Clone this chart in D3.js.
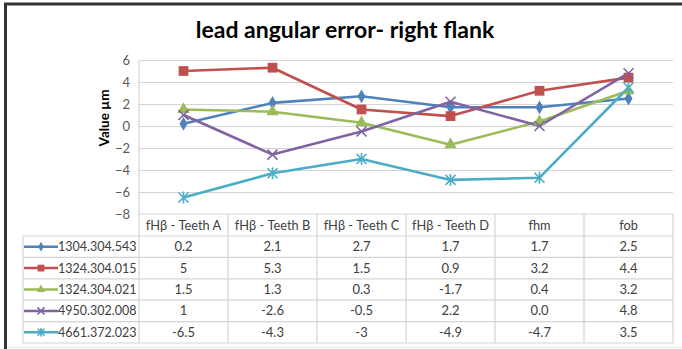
<!DOCTYPE html>
<html>
<head>
<meta charset="utf-8">
<script src="https://cdn.jsdelivr.net/npm/d3@7"></script>
<style>
  body { margin: 0; background: #fff; }
  svg { display: block; font-family: Lato, "Open Sans", sans-serif; }
</style>
</head>
<body>
<svg id="chart" width="682" height="349"></svg>
<script>
// Categories along the x axis (also the table header)
const categories = ["fHβ - Teeth A", "fHβ - Teeth B", "fHβ - Teeth C", "fHβ - Teeth D", "fhm", "fob"];

// Series names (table row labels)
const seriesNames = ["1304.304.543", "1324.304.015", "1324.304.021", "4950.302.008", "4661.372.023"];

// Values per series, kept as written in the data table
const values1304_304_543 = ["0.2", "2.1", "2.7", "1.7", "1.7", "2.5"];
const values1324_304_015 = ["5", "5.3", "1.5", "0.9", "3.2", "4.4"];
const values1324_304_021 = ["1.5", "1.3", "0.3", "-1.7", "0.4", "3.2"];
const values4950_302_008 = ["1", "-2.6", "-0.5", "2.2", "0.0", "4.8"];
const values4661_372_023 = ["-6.5", "-4.3", "-3", "-4.9", "-4.7", "3.5"];

// Y axis tick values
const yTicks = [6, 4, 2, 0, -2, -4, -6, -8];

const seriesColors = ["#4F81BD", "#C0504D", "#9BBB59", "#8064A2", "#4BACC6"];
const seriesMarkers = ["diamond", "square", "triangle", "cross", "star"];

const seriesValues = [values1304_304_543, values1324_304_015, values1324_304_021, values4950_302_008, values4661_372_023];
const series = seriesNames.map((name, i) => ({
  name,
  labels: seriesValues[i],
  values: seriesValues[i].map(Number),
  color: seriesColors[i],
  marker: seriesMarkers[i]
}));

const svg = d3.select("#chart");

// Layout
const plotLeft = 139, plotRight = 673, plotTop = 60, plotBottom = 214;
const tableLeft = 23, headerBottom = 236, tableBottom = 343;
const rowH = (tableBottom - headerBottom) / series.length;
const gridColor = "#d4d4d4";
const textColor = "#404040";

const x = d3.scaleBand().domain(categories).range([plotLeft, plotRight]);
const y = d3.scaleLinear().domain([-8, 6]).range([plotBottom, plotTop]);

// Outer frame
svg.append("path")
  .attr("d", `M5.5,349 V4 H682`)
  .attr("fill", "none")
  .attr("stroke", "#333")
  .attr("stroke-width", 3);
svg.append("line")
  .attr("x1", 7).attr("x2", 682).attr("y1", 347.5).attr("y2", 347.5)
  .attr("stroke", "#e4e4e4");

// Title
svg.append("text")
  .attr("x", 345).attr("y", 38)
  .attr("text-anchor", "middle")
  .attr("font-weight", "bold")
  .attr("font-size", 23)
  .attr("fill", "#000")
  .text("lead angular error- right flank");

// Gridlines
svg.append("g")
  .attr("transform", `translate(${plotLeft},0)`)
  .call(d3.axisLeft(y).tickValues(yTicks.filter(v => v > -8)).tickSize(-(plotRight - plotLeft)).tickFormat(""))
  .call(g => g.select(".domain").remove())
  .call(g => g.selectAll(".tick line").attr("stroke", gridColor).attr("stroke-width", 1.2));

// Y axis labels
svg.append("g")
  .attr("transform", `translate(${plotLeft - 9},0)`)
  .call(d3.axisLeft(y).tickValues(yTicks).tickSize(0).tickPadding(0))
  .call(g => g.select(".domain").remove())
  .call(g => g.selectAll(".tick text")
    .attr("font-family", "Lato, 'Open Sans', sans-serif")
    .attr("font-size", 13)
    .attr("fill", "#595959"));

// Y axis title
svg.append("text")
  .attr("transform", `translate(109,118) rotate(-90)`)
  .attr("text-anchor", "middle")
  .attr("font-weight", "bold")
  .attr("font-size", 13.5)
  .attr("fill", "#000")
  .text("Value µm");

// Data table grid
const tbl = svg.append("g").attr("stroke", gridColor).attr("stroke-width", 1.2).attr("fill", "none");
// horizontal rules
tbl.append("line").attr("x1", plotLeft).attr("x2", plotRight).attr("y1", plotBottom).attr("y2", plotBottom);
for (let r = 0; r <= series.length; r++) {
  const yy = headerBottom + r * rowH;
  tbl.append("line").attr("x1", tableLeft).attr("x2", plotRight).attr("y1", yy).attr("y2", yy);
}
// vertical rules
tbl.append("line").attr("x1", tableLeft).attr("x2", tableLeft).attr("y1", headerBottom).attr("y2", tableBottom);
tbl.append("line").attr("x1", plotLeft).attr("x2", plotLeft).attr("y1", plotTop).attr("y2", tableBottom);
categories.forEach(c => {
  const xx = x(c) + x.bandwidth();
  tbl.append("line").attr("x1", xx).attr("x2", xx).attr("y1", plotBottom).attr("y2", tableBottom);
});

// Header labels
svg.append("g").selectAll("text").data(categories).join("text")
  .attr("x", d => x(d) + x.bandwidth() / 2)
  .attr("y", (plotBottom + headerBottom) / 2 + 4.5)
  .attr("text-anchor", "middle")
  .attr("font-size", 12.8)
  .attr("fill", textColor)
  .text(d => d);

// Marker drawing
function drawMarker(g, type, color, s) {
  if (type === "diamond") {
    g.append("path").attr("d", d3.symbol(d3.symbolDiamond, 55 * s * s)()).attr("fill", color);
  } else if (type === "square") {
    g.append("path").attr("d", d3.symbol(d3.symbolSquare, 95 * s * s)()).attr("fill", color);
  } else if (type === "triangle") {
    g.append("path").attr("d", d3.symbol(d3.symbolTriangle, 66 * s * s)()).attr("fill", color);
  } else if (type === "cross") {
    const r = 5 * s;
    g.append("path").attr("d", `M${-r},${-r}L${r},${r}M${-r},${r}L${r},${-r}`)
      .attr("stroke", color).attr("stroke-width", 1.6).attr("fill", "none");
  } else if (type === "star") {
    const r = 5 * s;
    g.append("path").attr("d", `M${-r},${-r}L${r},${r}M${-r},${r}L${r},${-r}M0,${-r * 1.2}L0,${r * 1.2}`)
      .attr("stroke", color).attr("stroke-width", 1.6).attr("fill", "none");
  }
}

// Lines and markers
const line = d3.line()
  .x((d, i) => x(categories[i]) + x.bandwidth() / 2)
  .y(d => y(d));

const plot = svg.append("g");
series.forEach(s => {
  plot.append("path")
    .attr("d", line(s.values))
    .attr("fill", "none")
    .attr("stroke", s.color)
    .attr("stroke-width", 2.6)
    .attr("stroke-linejoin", "round");
});
series.forEach(s => {
  s.values.forEach((v, i) => {
    const g = plot.append("g")
      .attr("transform", `translate(${x(categories[i]) + x.bandwidth() / 2},${y(v)})`);
    drawMarker(g, s.marker, s.color, 1);
  });
});

// Table rows: legend key, series name, values
series.forEach((s, r) => {
  const cy = headerBottom + r * rowH + rowH / 2;
  const row = svg.append("g");
  row.append("line").attr("x1", 24).attr("x2", 58).attr("y1", cy).attr("y2", cy)
    .attr("stroke", s.color).attr("stroke-width", 2.5);
  const mk = row.append("g").attr("transform", `translate(41,${cy})`);
  drawMarker(mk, s.marker, s.color, 0.7);
  row.append("text")
    .attr("x", 58).attr("y", cy + 4.5)
    .attr("font-size", 12.5)
    .attr("fill", textColor)
    .text(s.name);
  row.selectAll("text.val").data(s.labels).join("text")
    .attr("class", "val")
    .attr("x", (d, i) => x(categories[i]) + x.bandwidth() / 2)
    .attr("y", cy + 4.5)
    .attr("text-anchor", "middle")
    .attr("font-size", 13)
    .attr("fill", textColor)
    .text(d => d);
});
</script>
</body>
</html>
